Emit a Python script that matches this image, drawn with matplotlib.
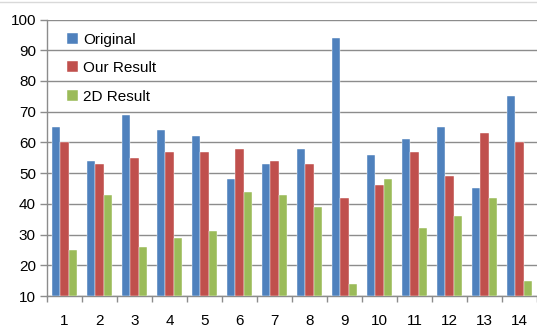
import matplotlib
matplotlib.use("Agg")
import matplotlib.pyplot as plt
import numpy as np
from matplotlib.lines import Line2D

categories = [str(i) for i in range(1, 15)]
original = [65, 54, 69, 64, 62, 48, 53, 58, 94, 56, 61, 65, 45, 75]
our_result = [60, 53, 55, 57, 57, 58, 54, 53, 42, 46, 57, 49, 63, 60]
result_2d = [25, 43, 26, 29, 31, 44, 43, 39, 14, 48, 32, 36, 42, 15]
yticks = [10, 20, 30, 40, 50, 60, 70, 80, 90, 100]

plt.rcParams['font.family'] = ['Liberation Sans', 'DejaVu Sans']

fig = plt.figure(figsize=(5.37, 3.32), dpi=100)
ax = fig.add_axes([47/537, 36/332, 1 - 47/537, (296 - 19.5)/332])

x = np.arange(len(categories))
w = 0.23
colors = ['#4F81BD', '#C0504D', '#9BBB59']
series = [original, our_result, result_2d]
labels = ['Original', 'Our Result', '2D Result']
for i, (vals, c, lab) in enumerate(zip(series, colors, labels)):
    ax.bar(x + (i - 1) * w, np.array(vals) - 10, bottom=10, width=w, color=c,
           label=lab, zorder=3, edgecolor='white', linewidth=0.3)

ax.set_ylim(10, 100)
ax.set_xlim(-0.5, len(categories) - 0.5)
ax.set_yticks(yticks)
ax.yaxis.grid(True, color='#8c8c8c', linewidth=1.0, zorder=0)
ax.set_axisbelow(True)

ax.set_xticks(x)
ax.set_xticklabels(categories, fontsize=11)
ax.set_xticks(np.arange(-0.5, len(categories) + 0.5, 1), minor=True)
ax.tick_params(axis='x', which='major', length=0, pad=13)
ax.tick_params(axis='x', which='minor', length=4, color='#8c8c8c', width=1)
ax.tick_params(axis='y', length=5, color='#8c8c8c', width=1, labelsize=11, pad=3)

for s in ['top', 'right']:
    ax.spines[s].set_visible(False)
for s in ['left', 'bottom']:
    ax.spines[s].set_color('#8c8c8c')
    ax.spines[s].set_linewidth(1)

leg = ax.legend(loc='upper left', bbox_to_anchor=(0.028, 0.975), frameon=False,
                fontsize=11, handlelength=0.75, handleheight=0.75, handletextpad=0.3,
                labelspacing=0.95, borderaxespad=0)

fig.add_artist(Line2D([0, 1], [1 - 2/332, 1 - 2/332], color='#d9d9d9', linewidth=1,
                      transform=fig.transFigure))

fig.savefig('out.png', dpi=100)
